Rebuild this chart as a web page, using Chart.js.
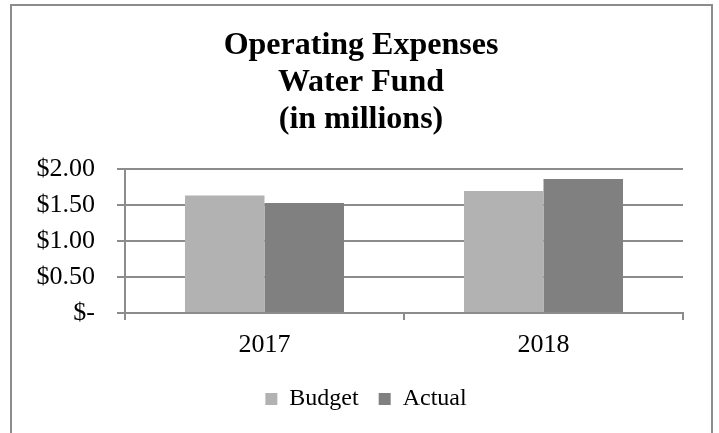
<!DOCTYPE html>
<html>
<head>
<meta charset="utf-8">
<script src="https://cdn.jsdelivr.net/npm/chart.js@4"></script>
<style>
  html, body { margin: 0; padding: 0; background: #ffffff; }
  #wrap { position: relative; width: 719px; height: 433px; overflow: hidden; }
  #frame { position: absolute; left: 10px; top: 4px; width: 703px; height: 500px; border: 2px solid #8c8c8c; box-sizing: border-box; }
  canvas { position: absolute; left: 0; top: 0; }
</style>
</head>
<body>
<div id="wrap">
  <div id="frame"></div>
  <canvas id="c" width="719" height="433"></canvas>
</div>
<script>
const categories = ['2017', '2018'];
const budgetValues = [1.635, 1.70];
const actualValues = [1.53, 1.865];
const yTickLabels = ['$-', '$0.50', '$1.00', '$1.50', '$2.00'];
const titleLines = ['Operating Expenses', 'Water Fund', '(in millions)'];

const FONT = "'Liberation Serif', 'Times New Roman', serif";
const GRID = '#8c8c8c';

// Re-centre the title and legend across the whole frame, not only the plot side.
const recentre = {
  id: 'recentre',
  afterLayout(chart) {
    const t = chart.titleBlock;
    if (t) { t.left = 3; t.right = chart.width; t.width = t.right - t.left; }
    const l = chart.legend;
    if (l) { l.left = 13; l.right = chart.width; l.width = l.right - l.left; }
  }
};

new Chart(document.getElementById('c'), {
  type: 'bar',
  data: {
    labels: categories,
    datasets: [
      { label: 'Budget', data: budgetValues, backgroundColor: '#b2b2b2', borderWidth: 0 },
      { label: 'Actual', data: actualValues, backgroundColor: '#808080', borderWidth: 0 }
    ]
  },
  plugins: [recentre],
  options: {
    responsive: false,
    animation: false,
    devicePixelRatio: 1,
    layout: { padding: { left: 0, right: 36, top: 0, bottom: 12 } },
    datasets: { bar: { categoryPercentage: 0.57, barPercentage: 1.0 } },
    plugins: {
      title: {
        display: true,
        text: titleLines,
        color: '#000000',
        font: { family: FONT, size: 32, weight: 'bold', lineHeight: 1.16 },
        padding: { top: 27, bottom: 31 }
      },
      legend: {
        position: 'bottom',
        labels: {
          color: '#000000',
          font: { family: FONT, size: 24 },
          boxWidth: 12,
          boxHeight: 12,
          padding: 20
        }
      },
      tooltip: { enabled: false }
    },
    scales: {
      x: {
        offset: true,
        grid: { display: true, offset: true, drawOnChartArea: false, drawTicks: true, tickLength: 7, color: GRID, lineWidth: 2 },
        border: { display: true, color: GRID, width: 2 },
        ticks: { color: '#000000', font: { family: FONT, size: 26 }, padding: 10 },
        afterFit: (s) => { s.height = 54; }
      },
      y: {
        min: 0,
        max: 2,
        ticks: {
          stepSize: 0.5,
          color: '#000000',
          font: { family: FONT, size: 26 },
          padding: 22,
          callback: (v, i) => yTickLabels[i]
        },
        grid: { color: GRID, lineWidth: 2, tickLength: 8, drawTicks: true },
        border: { display: true, color: GRID, width: 2 },
        afterFit: (s) => { s.width = 125; }
      }
    }
  }
});
</script>
</body>
</html>
